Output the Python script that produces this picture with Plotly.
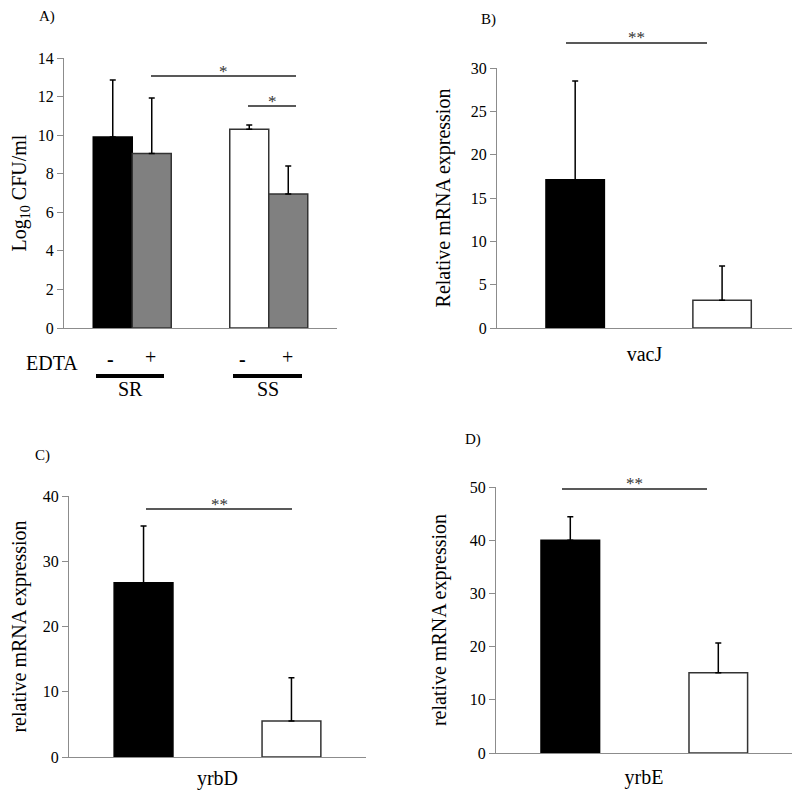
import plotly.graph_objects as go

# panel A: Log10 CFU/ml, SR and SS strains, without / with EDTA
strains = ["SR", "SS"]
edta_minus = [9.9, 10.3]
edta_minus_sd = [2.96, 0.22]
edta_plus = [9.05, 6.95]
edta_plus_sd = [2.87, 1.45]
a_ticks = [0, 2, 4, 6, 8, 10, 12, 14]

# panels B-D: relative mRNA expression (black = first group, white = second group)
genes = ["vacJ", "yrbD", "yrbE"]
expr_first = [17.1, 26.7, 40.0]
expr_first_sd = [11.4, 8.7, 4.4]
expr_second = [3.2, 5.5, 15.1]
expr_second_sd = [3.95, 6.65, 5.6]
gene_ymax = [30, 40, 50]
gene_dtick = [5, 10, 10]
gene_ytitle = ["Relative mRNA expression", "relative mRNA expression", "relative mRNA expression"]

# page is 802x800, body keeps an 8px margin, so the figure is a bit smaller
PAD = 8
W, H = 802 - 2 * PAD, 800 - 2 * PAD
FONT = "Liberation Serif, Times New Roman, serif"
AXC = "#8c8c8c"


def px(x):
    return (x - PAD) / W


def py(y):
    return 1 - (y - PAD) / H


fig = go.Figure()

# ---- panel A
bw = 39 / 136.5
fig.add_trace(go.Bar(x=strains, y=edta_minus, width=bw, offset=-bw,
                     marker=dict(color=["black", "white"], line=dict(color=["black", "#333333"], width=1.5)),
                     error_y=dict(type="data", array=edta_minus_sd, arrayminus=[0, 0], symmetric=False,
                                  color="black", thickness=1.5, width=3),
                     xaxis="x", yaxis="y", showlegend=False))
fig.add_trace(go.Bar(x=strains, y=edta_plus, width=bw, offset=0,
                     marker=dict(color="#808080", line=dict(color="#333333", width=1.5)),
                     error_y=dict(type="data", array=edta_plus_sd, arrayminus=[0, 0], symmetric=False,
                                  color="black", thickness=1.5, width=3),
                     xaxis="x", yaxis="y", showlegend=False))

# ---- panels B-D
# (x domain px, y domain px, bar offsets, title standoff, label standoff)
panels = [
    ((497, 792), (68, 328), (-0.334, 0.164), 14, 8),
    ((69, 366), (496, 757), (-0.348, 0.150), 18, 3),
    ((496, 792), (487, 753), (-0.348, 0.152), 17, 6),
]
gw = 0.198
for i, g in enumerate(genes):
    n = str(i + 2)
    off = panels[i][2]
    fig.add_trace(go.Bar(x=[g], y=[expr_first[i]], width=gw, offset=off[0],
                         marker=dict(color="black", line=dict(color="black", width=1.5)),
                         error_y=dict(type="data", array=[expr_first_sd[i]], arrayminus=[0], symmetric=False,
                                      color="black", thickness=1.5, width=3),
                         xaxis="x" + n, yaxis="y" + n, showlegend=False))
    fig.add_trace(go.Bar(x=[g], y=[expr_second[i]], width=gw, offset=off[1],
                         marker=dict(color="white", line=dict(color="#333333", width=1.5)),
                         error_y=dict(type="data", array=[expr_second_sd[i]], arrayminus=[0], symmetric=False,
                                      color="black", thickness=1.5, width=3),
                         xaxis="x" + n, yaxis="y" + n, showlegend=False))

tickfont = dict(family=FONT, size=16, color="black")
labfont = dict(family=FONT, size=20, color="black")

layout = dict(
    template="none",
    width=W, height=H, margin=dict(l=0, r=0, t=0, b=0, pad=0, autoexpand=False),
    paper_bgcolor="white", plot_bgcolor="white",
    barmode="group", font=dict(family=FONT, color="black"),
    xaxis=dict(domain=[px(64), px(337)], range=[-0.5, 1.5], showline=True, linecolor=AXC, linewidth=1,
               showticklabels=False, ticks="", showgrid=False, zeroline=False, automargin=False),
    yaxis=dict(domain=[py(328), py(58)], range=[0, 14], tickvals=a_ticks, showline=True, linecolor=AXC,
               linewidth=1, ticks="outside", ticklen=6, tickcolor=AXC, tickfont=tickfont, showgrid=False,
               zeroline=False, automargin=False,
               title=dict(text="Log<sub>10</sub> CFU/ml", font=labfont, standoff=12)),
)
for i, g in enumerate(genes):
    n = str(i + 2)
    xd, yd, _, so, lso = panels[i]
    layout["xaxis" + n] = dict(domain=[px(xd[0]), px(xd[1])], range=[-0.5, 0.5], anchor="y" + n,
                               showline=True, linecolor=AXC, linewidth=1, ticks="", tickfont=labfont,
                               ticklabelstandoff=lso, showgrid=False, zeroline=False, automargin=False)
    layout["yaxis" + n] = dict(domain=[py(yd[1]), py(yd[0])], range=[0, gene_ymax[i]], dtick=gene_dtick[i],
                               anchor="x" + n, showline=True, linecolor=AXC, linewidth=1, ticks="outside",
                               ticklen=6, tickcolor=AXC, tickfont=tickfont, showgrid=False, zeroline=False,
                               automargin=False, title=dict(text=gene_ytitle[i], font=labfont, standoff=so))
fig.update_layout(**layout)


def note(text, x, y, font):
    fig.add_annotation(xref="paper", yref="paper", x=px(x), y=py(y), text=text, showarrow=False,
                       xanchor="center", yanchor="middle", font=font)


# significance bars
sig = [((151, 296), 76, "*"), ((248, 296), 106, "*"), ((566, 707), 43, "**"),
       ((146, 292), 509, "**"), ((562, 707), 489, "**")]
for (x0, x1), y, txt in sig:
    fig.add_shape(type="line", xref="paper", yref="paper", x0=px(x0), x1=px(x1), y0=py(y), y1=py(y),
                  line=dict(color="#222222", width=1.3))
    note(txt, (x0 + x1) / 2, y - 5, dict(family=FONT, size=17, color="#333333"))

# panel letters
for t, x, y in [("A)", 47, 16), ("B)", 488, 20), ("C)", 42, 455), ("D)", 473, 440)]:
    note(t, x, y, dict(family=FONT, size=15, color="black"))

# EDTA row under panel A
note("EDTA", 52, 363, labfont)
for t, x in [("-", 110), ("+", 150), ("-", 243), ("+", 287)]:
    if t == "-":
        note("<b>-</b>", x, 359, labfont)
    else:
        note(t, x, 357, labfont)
for (x0, x1), t in [((96, 164), "SR"), ((233, 302), "SS")]:
    fig.add_shape(type="line", xref="paper", yref="paper", x0=px(x0), x1=px(x1), y0=py(376), y1=py(376),
                  line=dict(color="black", width=4))
    note(t, (x0 + x1) / 2, 389, labfont)

fig.write_html("out.html")
